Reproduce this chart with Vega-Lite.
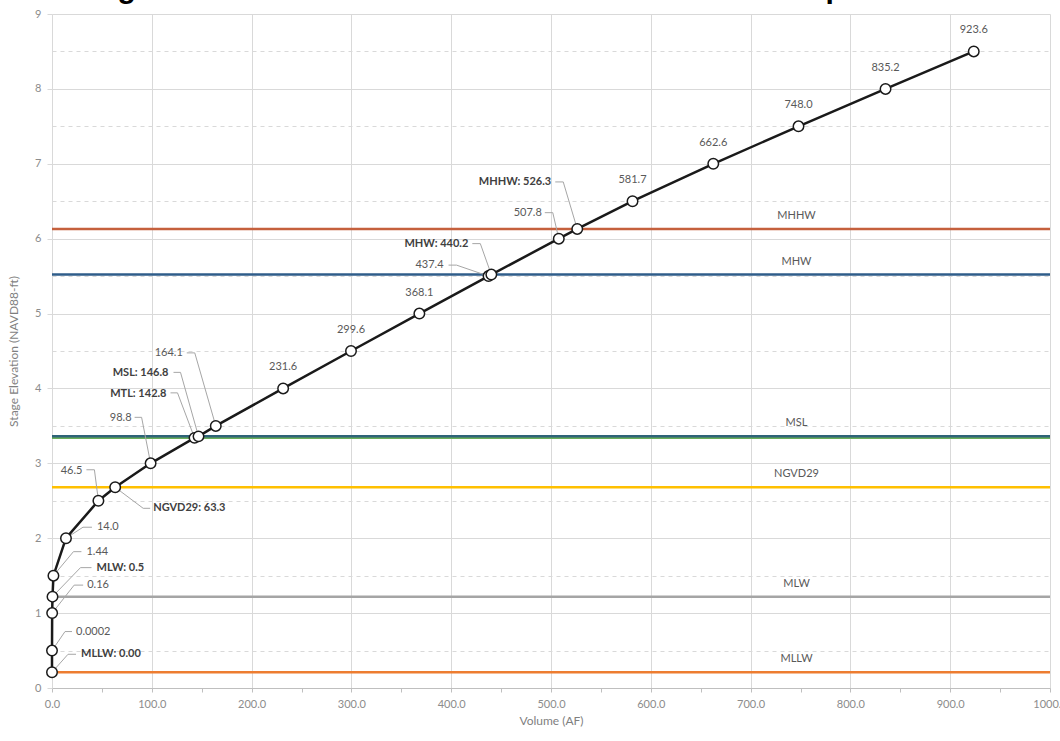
{
  "$schema": "https://vega.github.io/schema/vega-lite/v6.json",
  "width": 998,
  "height": 674,
  "autosize": {"type": "none"},
  "padding": {"left": 52, "top": 14, "right": 10, "bottom": 53},
  "background": "white",
  "view": {"stroke": null},
  "title": {
    "text": "Stage-Volume Curve - Bottom Numbers Indicate Sample Volume",
    "font": "Liberation Sans",
    "fontSize": 30,
    "fontWeight": "bold",
    "color": "black",
    "anchor": "middle",
    "frame": "group",
    "baseline": "alphabetic",
    "offset": 0,
    "dx": -24,
    "dy": 20
  },
  "datasets": {
    "pts": [
      {"vol": 0.0, "stage": 0.21, "label": "MLLW: 0.00"},
      {"vol": 0.0002, "stage": 0.5, "label": "0.0002"},
      {"vol": 0.16, "stage": 1.0, "label": "0.16"},
      {"vol": 0.5, "stage": 1.22, "label": "MLW: 0.5"},
      {"vol": 1.44, "stage": 1.5, "label": "1.44"},
      {"vol": 14.0, "stage": 2.0, "label": "14.0"},
      {"vol": 46.5, "stage": 2.5, "label": "46.5"},
      {"vol": 63.3, "stage": 2.68, "label": "NGVD29: 63.3"},
      {"vol": 98.8, "stage": 3.0, "label": "98.8"},
      {"vol": 142.8, "stage": 3.34, "label": "MTL: 142.8"},
      {"vol": 146.8, "stage": 3.36, "label": "MSL: 146.8"},
      {"vol": 164.1, "stage": 3.5, "label": "164.1"},
      {"vol": 231.6, "stage": 4.0, "label": "231.6"},
      {"vol": 299.6, "stage": 4.5, "label": "299.6"},
      {"vol": 368.1, "stage": 5.0, "label": "368.1"},
      {"vol": 437.4, "stage": 5.5, "label": "437.4"},
      {"vol": 440.2, "stage": 5.52, "label": "MHW: 440.2"},
      {"vol": 507.8, "stage": 6.0, "label": "507.8"},
      {"vol": 526.3, "stage": 6.13, "label": "MHHW: 526.3"},
      {"vol": 581.7, "stage": 6.5, "label": "581.7"},
      {"vol": 662.6, "stage": 7.0, "label": "662.6"},
      {"vol": 748.0, "stage": 7.5, "label": "748.0"},
      {"vol": 835.2, "stage": 8.0, "label": "835.2"},
      {"vol": 923.6, "stage": 8.5, "label": "923.6"}
    ],
    "refs": [
      {"name": "MHHW", "stage": 6.13, "shown": "MHHW"},
      {"name": "MHW", "stage": 5.52, "shown": "MHW"},
      {"name": "MTL", "stage": 3.34, "shown": ""},
      {"name": "MSL", "stage": 3.36, "shown": "MSL"},
      {"name": "NGVD29", "stage": 2.68, "shown": "NGVD29"},
      {"name": "MLW", "stage": 1.22, "shown": "MLW"},
      {"name": "MLLW", "stage": 0.21, "shown": "MLLW"}
    ]
  },
  "layer": [
    {
      "data": {"name": "refs"},
      "encoding": {
        "y": {
          "field": "stage",
          "type": "quantitative",
          "title": "Stage Elevation (NAVD88-ft)",
          "scale": {"domain": [0, 9], "nice": false, "zero": false},
          "axis": {
            "values": [0,0.5,1,1.5,2,2.5,3,3.5,4,4.5,5,5.5,6,6.5,7,7.5,8,8.5,9],
            "labelExpr": "datum.value % 1 === 0 ? format(datum.value, 'd') : ''",
            "grid": true,
            "gridColor": "#d9d9d9",
            "gridDash": {"condition": {"test": "datum.value % 1 !== 0", "value": [4, 4]}, "value": []},
            "domain": false,
            "tickSize": 5,
            "tickColor": "#d9d9d9",
            "tickOpacity": {"condition": {"test": "datum.value % 1 === 0", "value": 1}, "value": 0},
            "labelColor": "#8c8c8c",
            "labelFont": "Lato",
            "labelFontSize": 11,
            "labelPadding": 6,
            "labelOverlap": false,
            "titleFont": "Lato",
            "titleFontSize": 12,
            "titleFontWeight": "normal",
            "titleColor": "#7f7f7f",
            "titlePadding": 14
          }
        }
      },
      "layer": [
        {
          "mark": {"type": "rule", "strokeWidth": 2.5},
          "encoding": {
            "color": {
              "field": "name",
              "type": "nominal",
              "legend": null,
              "scale": {
                "domain": ["MHHW", "MHW", "MTL", "MSL", "NGVD29", "MLW", "MLLW"],
                "range": ["#C5603D", "#2F5D8A", "#6AAE5A", "#2E6378", "#FFC000", "#A5A5A5", "#ED7D31"]
              }
            }
          }
        },
        {
          "mark": {"type": "text", "font": "Lato", "fontSize": 11, "color": "#595959", "align": "center", "baseline": "middle", "dy": -13},
          "encoding": {
            "x": {"datum": 746, "type": "quantitative", "title": "Volume (AF)"},
            "text": {"field": "shown"}
          }
        }
      ]
    },
    {
      "data": {"name": "pts"},
      "encoding": {
        "x": {
          "field": "vol",
          "type": "quantitative",
          "title": "Volume (AF)",
          "scale": {"domain": [0, 1000], "nice": false, "zero": false},
          "axis": {
            "values": [0,25,50,75,100,125,150,175,200,225,250,275,300,325,350,375,400,425,450,475,500,525,550,575,600,625,650,675,700,725,750,775,800,825,850,875,900,925,950,975,1000],
            "labelExpr": "datum.value % 100 === 0 ? format(datum.value, '.1f') : ''",
            "grid": true,
            "gridColor": {"condition": {"test": "datum.value % 100 === 0", "value": "#d9d9d9"}, "value": "rgba(0,0,0,0)"},
            "gridWidth": 1,
            "tickSize": 4,
            "tickColor": "#bfbfbf",
            "domainColor": "#bfbfbf",
            "labelColor": "#8c8c8c",
            "labelFont": "Lato",
            "labelFontSize": 11,
            "labelPadding": 6,
            "labelFlush": false,
            "labelOverlap": false,
            "titleFont": "Lato",
            "titleFontSize": 12,
            "titleFontWeight": "normal",
            "titleColor": "#7f7f7f",
            "titlePadding": 6
          }
        },
        "y": {
          "field": "stage",
          "type": "quantitative",
          "title": "Stage Elevation (NAVD88-ft)",
          "scale": {"domain": [0, 9], "nice": false, "zero": false},
          "axis": {
            "values": [0,0.5,1,1.5,2,2.5,3,3.5,4,4.5,5,5.5,6,6.5,7,7.5,8,8.5,9],
            "labelExpr": "datum.value % 1 === 0 ? format(datum.value, 'd') : ''",
            "grid": true,
            "gridColor": "#d9d9d9",
            "gridDash": {"condition": {"test": "datum.value % 1 !== 0", "value": [4, 4]}, "value": []},
            "domain": false,
            "tickSize": 5,
            "tickColor": "#d9d9d9",
            "tickOpacity": {"condition": {"test": "datum.value % 1 === 0", "value": 1}, "value": 0},
            "labelColor": "#8c8c8c",
            "labelFont": "Lato",
            "labelFontSize": 11,
            "labelPadding": 6,
            "labelOverlap": false,
            "titleFont": "Lato",
            "titleFontSize": 12,
            "titleFontWeight": "normal",
            "titleColor": "#7f7f7f",
            "titlePadding": 14
          }
        }
      },
      "layer": [
        {"transform": [{"filter": "datum.label === 'MLLW: 0.00'"}], "mark": {"type": "rule", "color": "#a6a6a6", "strokeWidth": 1, "x2Offset": 16, "y2Offset": -18}, "encoding": {"x2": {"field": "vol"}, "y2": {"field": "stage"}}},
        {"transform": [{"filter": "datum.label === 'MLLW: 0.00'"}], "mark": {"type": "rule", "color": "#a6a6a6", "strokeWidth": 1, "xOffset": 16, "yOffset": -18, "x2Offset": 24, "y2Offset": -18}, "encoding": {"x2": {"field": "vol"}, "y2": {"field": "stage"}}},
        {"transform": [{"filter": "datum.label === 'MLLW: 0.00'"}], "mark": {"type": "text", "font": "Lato", "fontSize": 11, "fontWeight": "bold", "color": "#404040", "align": "left", "baseline": "middle", "dx": 29, "dy": -18}, "encoding": {"text": {"field": "label"}}},

        {"transform": [{"filter": "datum.label === '0.0002'"}], "mark": {"type": "rule", "color": "#a6a6a6", "strokeWidth": 1, "x2Offset": 13, "y2Offset": -19}, "encoding": {"x2": {"field": "vol"}, "y2": {"field": "stage"}}},
        {"transform": [{"filter": "datum.label === '0.0002'"}], "mark": {"type": "rule", "color": "#a6a6a6", "strokeWidth": 1, "xOffset": 13, "yOffset": -19, "x2Offset": 20, "y2Offset": -19}, "encoding": {"x2": {"field": "vol"}, "y2": {"field": "stage"}}},
        {"transform": [{"filter": "datum.label === '0.0002'"}], "mark": {"type": "text", "font": "Lato", "fontSize": 11, "color": "#595959", "align": "left", "baseline": "middle", "dx": 24, "dy": -19}, "encoding": {"text": {"field": "label"}}},

        {"transform": [{"filter": "datum.label === '0.16'"}], "mark": {"type": "rule", "color": "#a6a6a6", "strokeWidth": 1, "x2Offset": 22, "y2Offset": -28}, "encoding": {"x2": {"field": "vol"}, "y2": {"field": "stage"}}},
        {"transform": [{"filter": "datum.label === '0.16'"}], "mark": {"type": "rule", "color": "#a6a6a6", "strokeWidth": 1, "xOffset": 22, "yOffset": -28, "x2Offset": 31, "y2Offset": -28}, "encoding": {"x2": {"field": "vol"}, "y2": {"field": "stage"}}},
        {"transform": [{"filter": "datum.label === '0.16'"}], "mark": {"type": "text", "font": "Lato", "fontSize": 11, "color": "#595959", "align": "left", "baseline": "middle", "dx": 35, "dy": -28}, "encoding": {"text": {"field": "label"}}},

        {"transform": [{"filter": "datum.label === 'MLW: 0.5'"}], "mark": {"type": "rule", "color": "#a6a6a6", "strokeWidth": 1, "x2Offset": 28, "y2Offset": -29}, "encoding": {"x2": {"field": "vol"}, "y2": {"field": "stage"}}},
        {"transform": [{"filter": "datum.label === 'MLW: 0.5'"}], "mark": {"type": "rule", "color": "#a6a6a6", "strokeWidth": 1, "xOffset": 28, "yOffset": -29, "x2Offset": 39, "y2Offset": -29}, "encoding": {"x2": {"field": "vol"}, "y2": {"field": "stage"}}},
        {"transform": [{"filter": "datum.label === 'MLW: 0.5'"}], "mark": {"type": "text", "font": "Lato", "fontSize": 11, "fontWeight": "bold", "color": "#404040", "align": "left", "baseline": "middle", "dx": 44, "dy": -29}, "encoding": {"text": {"field": "label"}}},

        {"transform": [{"filter": "datum.label === '1.44'"}], "mark": {"type": "rule", "color": "#a6a6a6", "strokeWidth": 1, "x2Offset": 20, "y2Offset": -24}, "encoding": {"x2": {"field": "vol"}, "y2": {"field": "stage"}}},
        {"transform": [{"filter": "datum.label === '1.44'"}], "mark": {"type": "rule", "color": "#a6a6a6", "strokeWidth": 1, "xOffset": 20, "yOffset": -24, "x2Offset": 28, "y2Offset": -24}, "encoding": {"x2": {"field": "vol"}, "y2": {"field": "stage"}}},
        {"transform": [{"filter": "datum.label === '1.44'"}], "mark": {"type": "text", "font": "Lato", "fontSize": 11, "color": "#595959", "align": "left", "baseline": "middle", "dx": 33, "dy": -24}, "encoding": {"text": {"field": "label"}}},

        {"transform": [{"filter": "datum.label === '14.0'"}], "mark": {"type": "rule", "color": "#a6a6a6", "strokeWidth": 1, "x2Offset": 17, "y2Offset": -11}, "encoding": {"x2": {"field": "vol"}, "y2": {"field": "stage"}}},
        {"transform": [{"filter": "datum.label === '14.0'"}], "mark": {"type": "rule", "color": "#a6a6a6", "strokeWidth": 1, "xOffset": 17, "yOffset": -11, "x2Offset": 26, "y2Offset": -11}, "encoding": {"x2": {"field": "vol"}, "y2": {"field": "stage"}}},
        {"transform": [{"filter": "datum.label === '14.0'"}], "mark": {"type": "text", "font": "Lato", "fontSize": 11, "color": "#595959", "align": "left", "baseline": "middle", "dx": 31, "dy": -11}, "encoding": {"text": {"field": "label"}}},

        {"transform": [{"filter": "datum.label === 'NGVD29: 63.3'"}], "mark": {"type": "rule", "color": "#a6a6a6", "strokeWidth": 1, "x2Offset": 28, "y2Offset": 21}, "encoding": {"x2": {"field": "vol"}, "y2": {"field": "stage"}}},
        {"transform": [{"filter": "datum.label === 'NGVD29: 63.3'"}], "mark": {"type": "rule", "color": "#a6a6a6", "strokeWidth": 1, "xOffset": 28, "yOffset": 21, "x2Offset": 35, "y2Offset": 21}, "encoding": {"x2": {"field": "vol"}, "y2": {"field": "stage"}}},
        {"transform": [{"filter": "datum.label === 'NGVD29: 63.3'"}], "mark": {"type": "text", "font": "Lato", "fontSize": 11, "fontWeight": "bold", "color": "#404040", "align": "left", "baseline": "middle", "dx": 38, "dy": 21}, "encoding": {"text": {"field": "label"}}},

        {"transform": [{"filter": "datum.label === '46.5'"}], "mark": {"type": "rule", "color": "#a6a6a6", "strokeWidth": 1, "x2Offset": -4, "y2Offset": -31}, "encoding": {"x2": {"field": "vol"}, "y2": {"field": "stage"}}},
        {"transform": [{"filter": "datum.label === '46.5'"}], "mark": {"type": "rule", "color": "#a6a6a6", "strokeWidth": 1, "xOffset": -4, "yOffset": -31, "x2Offset": -12, "y2Offset": -31}, "encoding": {"x2": {"field": "vol"}, "y2": {"field": "stage"}}},
        {"transform": [{"filter": "datum.label === '46.5'"}], "mark": {"type": "text", "font": "Lato", "fontSize": 11, "color": "#595959", "align": "right", "baseline": "middle", "dx": -16, "dy": -30}, "encoding": {"text": {"field": "label"}}},

        {"transform": [{"filter": "datum.label === '98.8'"}], "mark": {"type": "rule", "color": "#a6a6a6", "strokeWidth": 1, "x2Offset": -9, "y2Offset": -46}, "encoding": {"x2": {"field": "vol"}, "y2": {"field": "stage"}}},
        {"transform": [{"filter": "datum.label === '98.8'"}], "mark": {"type": "rule", "color": "#a6a6a6", "strokeWidth": 1, "xOffset": -9, "yOffset": -46, "x2Offset": -16, "y2Offset": -46}, "encoding": {"x2": {"field": "vol"}, "y2": {"field": "stage"}}},
        {"transform": [{"filter": "datum.label === '98.8'"}], "mark": {"type": "text", "font": "Lato", "fontSize": 11, "color": "#595959", "align": "right", "baseline": "middle", "dx": -19, "dy": -45}, "encoding": {"text": {"field": "label"}}},

        {"transform": [{"filter": "datum.label === 'MTL: 142.8'"}], "mark": {"type": "rule", "color": "#a6a6a6", "strokeWidth": 1, "x2Offset": -17, "y2Offset": -45}, "encoding": {"x2": {"field": "vol"}, "y2": {"field": "stage"}}},
        {"transform": [{"filter": "datum.label === 'MTL: 142.8'"}], "mark": {"type": "rule", "color": "#a6a6a6", "strokeWidth": 1, "xOffset": -17, "yOffset": -45, "x2Offset": -24, "y2Offset": -45}, "encoding": {"x2": {"field": "vol"}, "y2": {"field": "stage"}}},
        {"transform": [{"filter": "datum.label === 'MTL: 142.8'"}], "mark": {"type": "text", "font": "Lato", "fontSize": 11, "fontWeight": "bold", "color": "#404040", "align": "right", "baseline": "middle", "dx": -28, "dy": -44}, "encoding": {"text": {"field": "label"}}},

        {"transform": [{"filter": "datum.label === 'MSL: 146.8'"}], "mark": {"type": "rule", "color": "#a6a6a6", "strokeWidth": 1, "x2Offset": -18, "y2Offset": -64}, "encoding": {"x2": {"field": "vol"}, "y2": {"field": "stage"}}},
        {"transform": [{"filter": "datum.label === 'MSL: 146.8'"}], "mark": {"type": "rule", "color": "#a6a6a6", "strokeWidth": 1, "xOffset": -18, "yOffset": -64, "x2Offset": -25, "y2Offset": -64}, "encoding": {"x2": {"field": "vol"}, "y2": {"field": "stage"}}},
        {"transform": [{"filter": "datum.label === 'MSL: 146.8'"}], "mark": {"type": "text", "font": "Lato", "fontSize": 11, "fontWeight": "bold", "color": "#404040", "align": "right", "baseline": "middle", "dx": -30, "dy": -63}, "encoding": {"text": {"field": "label"}}},

        {"transform": [{"filter": "datum.label === '164.1'"}], "mark": {"type": "rule", "color": "#a6a6a6", "strokeWidth": 1, "x2Offset": -21, "y2Offset": -73}, "encoding": {"x2": {"field": "vol"}, "y2": {"field": "stage"}}},
        {"transform": [{"filter": "datum.label === '164.1'"}], "mark": {"type": "rule", "color": "#a6a6a6", "strokeWidth": 1, "xOffset": -21, "yOffset": -73, "x2Offset": -29, "y2Offset": -73}, "encoding": {"x2": {"field": "vol"}, "y2": {"field": "stage"}}},
        {"transform": [{"filter": "datum.label === '164.1'"}], "mark": {"type": "text", "font": "Lato", "fontSize": 11, "color": "#595959", "align": "right", "baseline": "middle", "dx": -33, "dy": -73}, "encoding": {"text": {"field": "label"}}},

        {"transform": [{"filter": "datum.label === '437.4'"}], "mark": {"type": "rule", "color": "#a6a6a6", "strokeWidth": 1, "x2Offset": -32, "y2Offset": -11}, "encoding": {"x2": {"field": "vol"}, "y2": {"field": "stage"}}},
        {"transform": [{"filter": "datum.label === '437.4'"}], "mark": {"type": "rule", "color": "#a6a6a6", "strokeWidth": 1, "xOffset": -32, "yOffset": -11, "x2Offset": -40, "y2Offset": -11}, "encoding": {"x2": {"field": "vol"}, "y2": {"field": "stage"}}},
        {"transform": [{"filter": "datum.label === '437.4'"}], "mark": {"type": "text", "font": "Lato", "fontSize": 11, "color": "#595959", "align": "right", "baseline": "middle", "dx": -45, "dy": -11}, "encoding": {"text": {"field": "label"}}},

        {"transform": [{"filter": "datum.label === 'MHW: 440.2'"}], "mark": {"type": "rule", "color": "#a6a6a6", "strokeWidth": 1, "x2Offset": -11, "y2Offset": -31}, "encoding": {"x2": {"field": "vol"}, "y2": {"field": "stage"}}},
        {"transform": [{"filter": "datum.label === 'MHW: 440.2'"}], "mark": {"type": "rule", "color": "#a6a6a6", "strokeWidth": 1, "xOffset": -11, "yOffset": -31, "x2Offset": -19, "y2Offset": -31}, "encoding": {"x2": {"field": "vol"}, "y2": {"field": "stage"}}},
        {"transform": [{"filter": "datum.label === 'MHW: 440.2'"}], "mark": {"type": "text", "font": "Lato", "fontSize": 11, "fontWeight": "bold", "color": "#404040", "align": "right", "baseline": "middle", "dx": -23, "dy": -31}, "encoding": {"text": {"field": "label"}}},

        {"transform": [{"filter": "datum.label === '507.8'"}], "mark": {"type": "rule", "color": "#a6a6a6", "strokeWidth": 1, "x2Offset": -6, "y2Offset": -26}, "encoding": {"x2": {"field": "vol"}, "y2": {"field": "stage"}}},
        {"transform": [{"filter": "datum.label === '507.8'"}], "mark": {"type": "rule", "color": "#a6a6a6", "strokeWidth": 1, "xOffset": -6, "yOffset": -26, "x2Offset": -14, "y2Offset": -26}, "encoding": {"x2": {"field": "vol"}, "y2": {"field": "stage"}}},
        {"transform": [{"filter": "datum.label === '507.8'"}], "mark": {"type": "text", "font": "Lato", "fontSize": 11, "color": "#595959", "align": "right", "baseline": "middle", "dx": -17, "dy": -26}, "encoding": {"text": {"field": "label"}}},

        {"transform": [{"filter": "datum.label === 'MHHW: 526.3'"}], "mark": {"type": "rule", "color": "#a6a6a6", "strokeWidth": 1, "x2Offset": -14, "y2Offset": -47}, "encoding": {"x2": {"field": "vol"}, "y2": {"field": "stage"}}},
        {"transform": [{"filter": "datum.label === 'MHHW: 526.3'"}], "mark": {"type": "rule", "color": "#a6a6a6", "strokeWidth": 1, "xOffset": -14, "yOffset": -47, "x2Offset": -22, "y2Offset": -47}, "encoding": {"x2": {"field": "vol"}, "y2": {"field": "stage"}}},
        {"transform": [{"filter": "datum.label === 'MHHW: 526.3'"}], "mark": {"type": "text", "font": "Lato", "fontSize": 11, "fontWeight": "bold", "color": "#404040", "align": "right", "baseline": "middle", "dx": -26, "dy": -47}, "encoding": {"text": {"field": "label"}}},

        {
          "mark": {"type": "line", "color": "#1a1a1a", "strokeWidth": 2.5},
          "encoding": {"order": {"field": "vol", "type": "quantitative"}}
        },
        {
          "mark": {"type": "point", "shape": "circle", "filled": true, "fill": "white", "stroke": "#1a1a1a", "strokeWidth": 1.5, "size": 110, "opacity": 1}
        },
        {
          "transform": [{"filter": {"field": "label", "oneOf": ["231.6", "299.6", "368.1", "581.7", "662.6", "748.0", "835.2", "923.6"]}}],
          "mark": {"type": "text", "font": "Lato", "fontSize": 11, "color": "#595959", "align": "center", "baseline": "middle", "dy": -21},
          "encoding": {"text": {"field": "label"}}
        }
      ]
    }
  ]
}
